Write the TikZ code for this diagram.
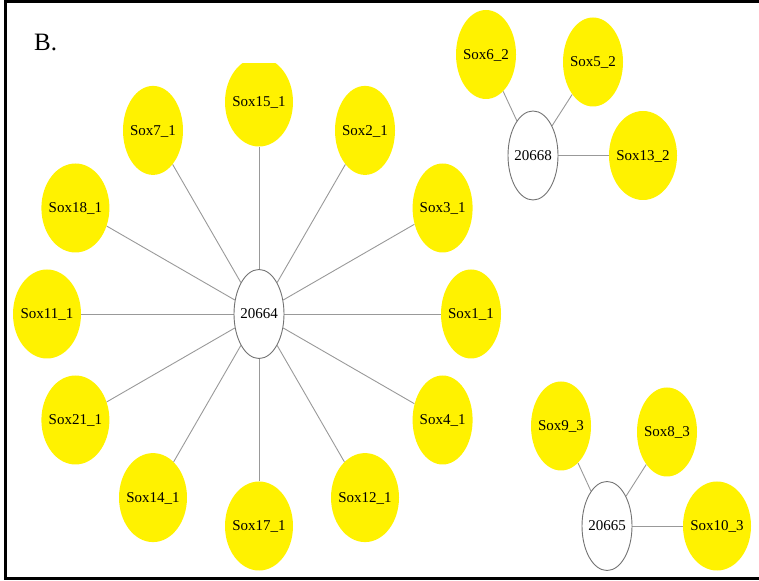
\documentclass[tikz,border=0pt]{standalone}
\usepackage{fontspec}
\setmainfont{Liberation Serif}
\usetikzlibrary{shapes.geometric,backgrounds,calc}
\newcommand\lbl[1]{\makebox[0pt]{#1}}
\tikzset{
  gene/.style={ellipse, fill=yellow, inner sep=0pt, minimum height=89pt,
    minimum width=60pt, text depth=0pt, font=\fontsize{15}{18}\selectfont},
  wide/.style={minimum width=68pt},
  hub/.style={ellipse, draw=black!55, line width=0.9pt, fill=white, inner sep=0pt,
    minimum height=89pt, minimum width=50pt, font=\fontsize{15}{18}\selectfont},
  link/.style={draw=black!40, line width=0.9pt},
  frame/.style={draw=black, line width=3pt}
}
\begin{document}
\begin{tikzpicture}[x=1pt,y=1pt]
\useasboundingbox (0,0) rectangle (759,580);
\draw[frame] (759,578.5) -- (5.3,578.5) -- (5.3,1.5) -- (759,1.5);
\node[anchor=base west, inner sep=0pt, font=\fontsize{25}{30}\selectfont] (title) at (34,529) {B.};

% first cluster: twelve genes round 20664
\node[hub] (h1) at (259,266) {\lbl{20664}};
\begin{scope}
  \clip (0,0) rectangle (759,516);
  \node[gene,wide] (s15) at ($(h1)+(90:212)$) {\lbl{Sox15\_1}};
\end{scope}
\node[gene] (s2) at ($(h1)+(60:212)$) {\lbl{Sox2\_1}};
\node[gene] (s3) at ($(h1)+(30:212)$) {\lbl{Sox3\_1}};
\node[gene] (s1) at ($(h1)+(0:212)$) {\lbl{Sox1\_1}};
\node[gene] (s4) at ($(h1)+(-30:212)$) {\lbl{Sox4\_1}};
\node[gene,wide] (s12) at ($(h1)+(-60:212)$) {\lbl{Sox12\_1}};
\node[gene,wide] (s17) at ($(h1)+(-90:212)$) {\lbl{Sox17\_1}};
\node[gene,wide] (s14) at ($(h1)+(-120:212)$) {\lbl{Sox14\_1}};
\node[gene,wide] (s21) at ($(h1)+(-150:212)$) {\lbl{Sox21\_1}};
\node[gene,wide] (s11) at ($(h1)+(180:212)$) {\lbl{Sox11\_1}};
\node[gene,wide] (s18) at ($(h1)+(150:212)$) {\lbl{Sox18\_1}};
\node[gene] (s7) at ($(h1)+(120:212)$) {\lbl{Sox7\_1}};

% second cluster
\node[hub] (h2) at (533,424.5) {\lbl{20668}};
\node[gene] (s6b) at (486,525.5) {\lbl{Sox6\_2}};
\node[gene] (s5b) at (593,518) {\lbl{Sox5\_2}};
\node[gene,wide] (s13b) at (643,424.5) {\lbl{Sox13\_2}};

% third cluster
\node[hub] (h3) at (607,54) {\lbl{20665}};
\node[gene] (s9c) at (561,154) {\lbl{Sox9\_3}};
\node[gene] (s8c) at (667,148) {\lbl{Sox8\_3}};
\node[gene,wide] (s10c) at (717,54) {\lbl{Sox10\_3}};

\begin{pgfonlayer}{background}
  \foreach \g in {s15,s2,s3,s1,s4,s12,s17,s14,s21,s11,s18,s7}
    \path[link] (h1) -- (\g);
  \foreach \g in {s6b,s5b,s13b}
    \path[link] (h2) -- (\g);
  \foreach \g in {s9c,s8c,s10c}
    \path[link] (h3) -- (\g);
\end{pgfonlayer}
\end{tikzpicture}
\end{document}
